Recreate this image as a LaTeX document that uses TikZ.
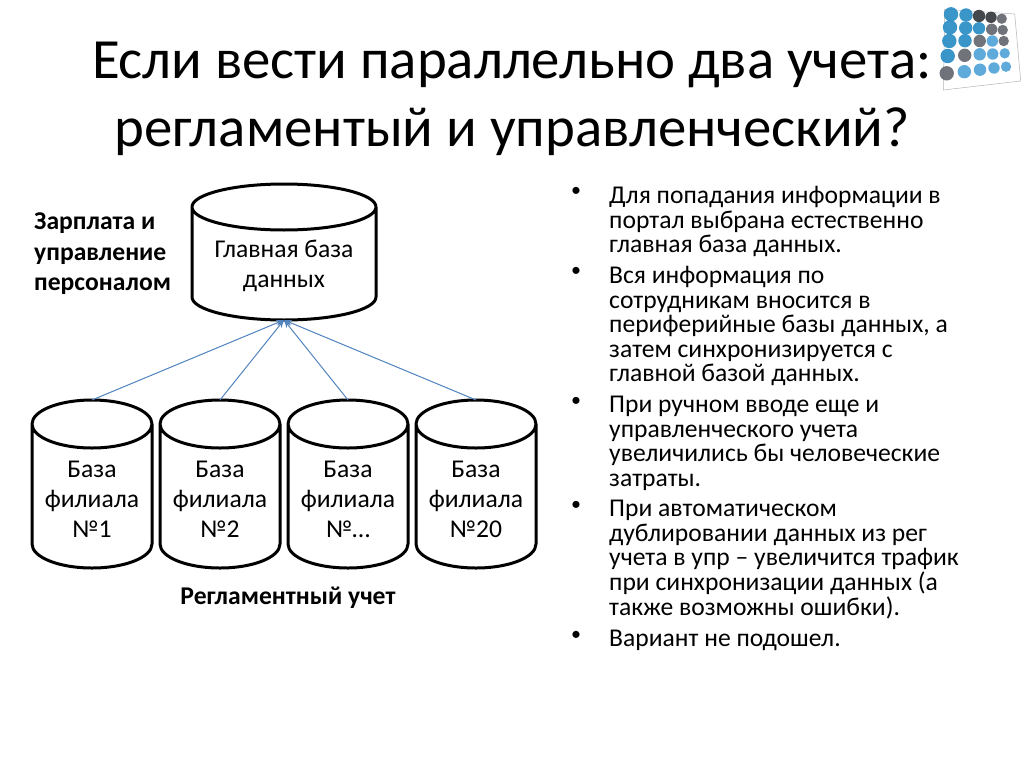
\documentclass[tikz,border=0pt]{standalone}
\usepackage{fontspec}
\setmainfont{Carlito}
\usetikzlibrary{arrows.meta}
\definecolor{arrowblue}{HTML}{4F81BD}
\definecolor{dotblue}{HTML}{2F8FC6}
\definecolor{dotlight}{HTML}{55A5D8}
\definecolor{dotgray}{HTML}{686C72}
\definecolor{dotdark}{HTML}{3A3D42}
\tikzset{
 dbbox/.style={rectangle,draw=none,inner sep=0pt,outer sep=0pt},
 small/.style={dbbox,minimum width=120pt,minimum height=168pt},
 cyl/.style={draw=black,line width=3pt,line join=round},
 dblabel/.style={align=center,inner sep=0pt,font=\fontsize{25.6}{30}\selectfont},
 conn/.style={draw=arrowblue,line width=1pt,-{Stealth[length=8pt,width=6pt,open]}},
 side/.style={font=\bfseries\fontsize{25.6}{30.5}\selectfont,align=left,inner sep=0pt},
 body/.style={font=\fontsize{25.6}{24.6}\selectfont,align=left,inner sep=0pt,anchor=north west},
 bul/.style={font=\fontsize{20}{24.6}\selectfont,inner sep=0pt,anchor=north west},
 dot/.style={fill=#1,draw=none,opacity=.95},
}
% #1 node name, #2 half width, #3 height of the end curves
\newcommand{\dbdraw}[3]{%
 \draw[cyl] (#1.north west) ++(0pt,-#3) arc (180:0:#2 and #3) arc (360:180:#2 and #3)
   -- ([yshift=#3]#1.south west) arc (180:360:#2 and #3) -- ([yshift=-#3]#1.north east);}
\begin{document}
\begin{tikzpicture}[x=1pt,y=-1pt]
\useasboundingbox (0,0) rectangle (1024,768);
\node[font=\fontsize{56.8}{68}\selectfont,align=center,inner sep=0pt] (title) at (512,99) {Если вести параллельно два учета:\\регламентый и управленческий?};
% logo
\draw[gray!60,line width=.5pt] (944.7,9.3)--(1014.7,14)--(1020.7,81)--(943.3,90)--cycle;
\foreach \x/\y/\c [count=\i] in {
 951/14.3/dotblue,966/15/dotblue,979/16/dotdark,991/17.3/dotdark,1001.7/18.7/dotgray,
 950/27.3/dotblue,965.7/28/dotblue,979/28.3/dotblue,991.7/29.3/dotgray,1002.7/30/dotgray,
 949.3/41/dotblue,965/40.7/dotblue,979.7/41/dotgray,992.3/41/dotlight,1003.7/41/dotgray,
 947.7/56/dotblue,964.7/55.3/dotgray,979.7/54.3/dotlight,992.7/54/dotlight,1004.7/53.3/dotlight,
 946.7/73.3/dotgray,964.3/71.7/dotlight,980/69.7/dotlight,994/68/dotlight,1006/66.7/dotlight}
 {\pgfmathsetmacro{\rr}{7.2-0.5*mod(\i-1,5)}\fill[dot=\c] (\x,\y) circle (\rr);}
% main
\node[dbbox,minimum width=184pt,minimum height=136pt] (main) at (284,252) {};
\dbdraw{main}{92pt}{23pt}
\node[dblabel] (mainlabel) at (284,266) {Главная база\\данных};
\node[small] (f1) at (92,484) {};
\node[small] (f2) at (220,484) {};
\node[small] (f3) at (348,484) {};
\node[small] (f4) at (476,484) {};
\foreach \n in {f1,f2,f3,f4} {\dbdraw{\n}{60pt}{24pt}}
\node[dblabel] (l1) at (92,499) {База\\филиала\\№1};
\node[dblabel] (l2) at (220,499) {База\\филиала\\№2};
\node[dblabel] (l3) at (348,499) {База\\филиала\\№…};
\node[dblabel] (l4) at (476,499) {База\\филиала\\№20};
\foreach \n in {f1,f2,f3,f4} \draw[conn] (\n.north) -- (main.south);
\node[side,anchor=west] (zp) at (34,254) {Зарплата и\\управление\\персоналом};
\node[font=\bfseries\fontsize{25.6}{28}\selectfont,inner sep=0pt] (reg) at (288,598) {Регламентный учет};
% bullets
\node[bul] (b1) at (571,187) {•};
\node[body] (t1) at (609,186) {Для попадания информации в\\портал выбрана естественно\\главная база данных.};
\node[bul] (b2) at (571,267) {•};
\node[body] (t2) at (609,266) {Вся информация по\\сотрудникам вносится в\\периферийные базы данных, а\\затем синхронизируется с\\главной базой данных.};
\node[bul] (b3) at (571,397) {•};
\node[body] (t3) at (609,396) {При ручном вводе еще и\\управленческого учета\\увеличились бы человеческие\\затраты.};
\node[bul] (b4) at (571,501) {•};
\node[body] (t4) at (609,500) {При автоматическом\\дублировании данных из рег\\учета в упр – увеличится трафик\\при синхронизации данных (а\\также возможны ошибки).};
\node[bul] (b5) at (571,631) {•};
\node[body] (t5) at (609,630) {Вариант не подошел.};
\end{tikzpicture}
\end{document}
